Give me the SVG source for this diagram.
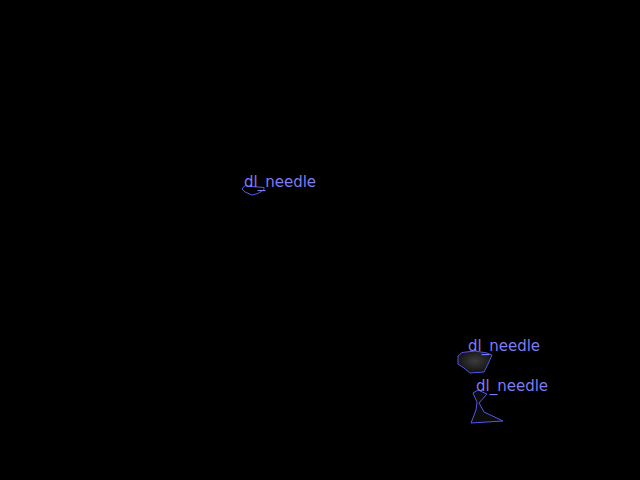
<svg xmlns="http://www.w3.org/2000/svg" width="640" height="480" viewBox="0 0 640 480">
<defs>
<style>
.lbl{font-family:"DejaVu Sans",sans-serif;font-size:15px;fill:#7c7cf4}
.shp{stroke:#5555ee;stroke-width:1;fill:none}
</style>
<radialGradient id="g" cx="0.5" cy="0.45" r="0.55">
<stop offset="0" stop-color="#3c3c3c"/>
<stop offset="1" stop-color="#111"/>
</radialGradient>
</defs>
<rect width="640" height="480" fill="#000"/>
<g id="needle1">
<path class="shp" d="M242,189 L245,185.5 L251,186.5 L264,187.5 L264,189.5 L258,193.5 L252,195 L245,192 Z"/>
<text class="lbl" x="244" y="187">dl_needle</text>
</g>
<g id="needle2">
<path class="shp" style="fill:url(#g)" d="M458,356 L462,352.5 L475,351 L487,353 L492,355 L488,364 L484,372 L470,373 L464,368 L458,364 Z"/>
<text class="lbl" x="468" y="351">dl_needle</text>
</g>
<g id="needle3">
<path class="shp" style="fill:#0c0c0c" d="M473,393 L478,390 L487,394 L479,403 L484,412 L503,421 L471,423 L476,410 L477,402 Z"/>
<text class="lbl" x="476" y="391">dl_needle</text>
</g>
<g id="connectors"/>
</svg>
